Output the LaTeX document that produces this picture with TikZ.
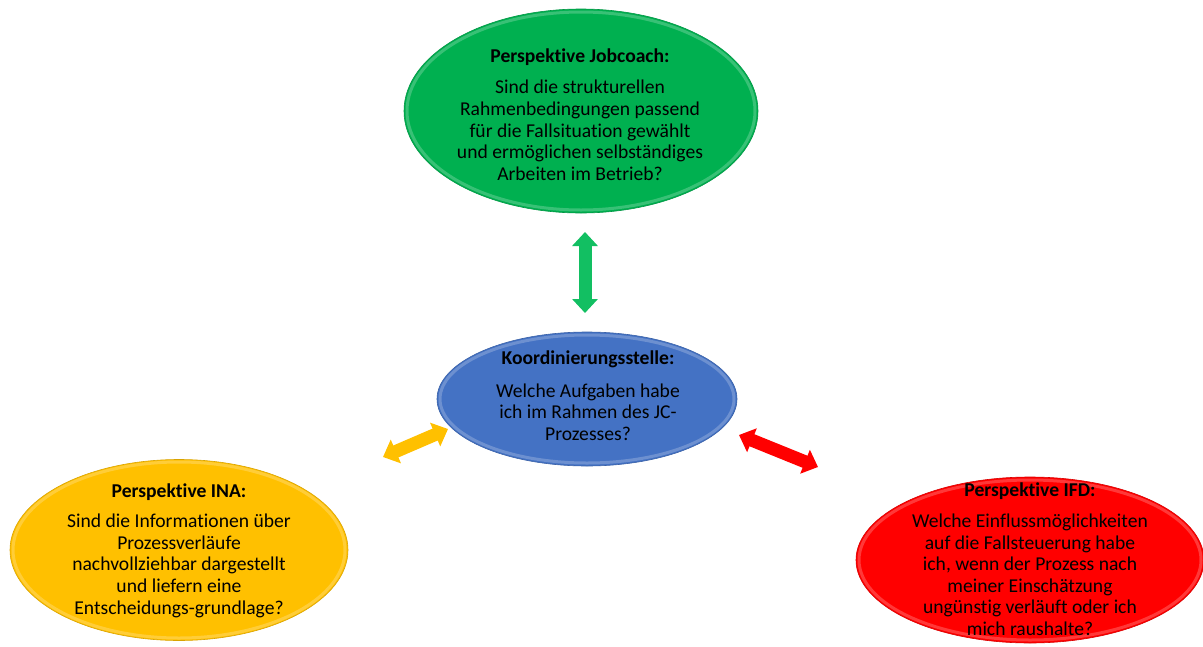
\documentclass[tikz,border=0pt]{standalone}
\usepackage{fontspec}
\setmainfont{Carlito}[Ligatures=NoCommon]
\usetikzlibrary{shapes.geometric,arrows.meta}

\definecolor{jcgreen}{HTML}{00B050}
\definecolor{kstblue}{HTML}{4472C4}
\definecolor{inayellow}{HTML}{FFC000}
\definecolor{ifdred}{HTML}{FF0000}
\definecolor{arrgreen}{HTML}{12BF62}

\tikzset{
  bubble/.style={ellipse, inner sep=0pt, fill=#1, draw=#1!85!black, line width=0.6pt},
  rim/.style={draw=white, opacity=0.22, line width=3pt},
  bubbletext/.style={align=center, inner sep=0pt, anchor=north, text=black,
    font=\fontsize{19.6}{21.6}\selectfont},
  duplex/.style={line width=13pt, draw=#1,
    {Triangle[width=25pt,length=14pt,fill=#1]}-{Triangle[width=25pt,length=14pt,fill=#1]}},
}

\begin{document}
\begin{tikzpicture}[x=1pt,y=-1pt]
\useasboundingbox (0,0) rectangle (1203,646);

% perspective bubbles
\node[bubble=jcgreen,   minimum width=354pt, minimum height=204pt] (job) at (581,111) {};
\node[bubble=kstblue,   minimum width=300pt, minimum height=134pt] (kst) at (587,399) {};
\node[bubble=inayellow, minimum width=338pt, minimum height=181pt] (ina) at (179,550) {};
\node[bubble=ifdred,    minimum width=348pt, minimum height=166pt] (ifd) at (1030,560) {};

% soft bevel rims
\draw[rim] (job.center) ellipse [x radius=174, y radius=99];
\draw[rim] (kst.center) ellipse [x radius=147, y radius=64];
\draw[rim] (ina.center) ellipse [x radius=166, y radius=88];
\draw[rim] (ifd.center) ellipse [x radius=171, y radius=80];

% texts
\node[bubbletext] (jobtxt) at (580,48.5) {\textbf{Perspektive Jobcoach:}\\[9.8pt]
  Sind die strukturellen\\ Rahmenbedingungen passend\\ für die Fallsituation gewählt\\
  und ermöglichen selbständiges\\ Arbeiten im Betrieb?};
\node[bubbletext] (ksttxt) at (588,351) {\textbf{Koordinierungsstelle:}\\[10.6pt]
  Welche Aufgaben habe\\ ich im Rahmen des JC-\\ Prozesses?};
\node[bubbletext] (inatxt) at (179,483.5) {\textbf{Perspektive INA:}\\[8.6pt]
  Sind die Informationen über\\ Prozessverläufe\\ nachvollziehbar dargestellt\\
  und liefern eine\\ Entscheidungs-grundlage?};
\node[bubbletext] (ifdtxt) at (1030,482.5) {\textbf{Perspektive IFD:}\\[9.4pt]
  Welche Einflussmöglichkeiten\\ auf die Fallsteuerung habe\\ ich, wenn der Prozess nach\\
  meiner Einschätzung\\ ungünstig verläuft oder ich\\ mich raushalte?};

% double arrows between the centre and the perspectives
\coordinate (g1) at (585,232);
\coordinate (g2) at (585,313);
\coordinate (y1) at (383,457);
\coordinate (y2) at (448,429);
\coordinate (r1) at (739,435);
\coordinate (r2) at (818,467);
\draw[duplex=arrgreen]  (g1) -- (g2);
\draw[duplex=inayellow] (y1) -- (y2);
\draw[duplex=ifdred]    (r1) -- (r2);
\end{tikzpicture}
\end{document}
